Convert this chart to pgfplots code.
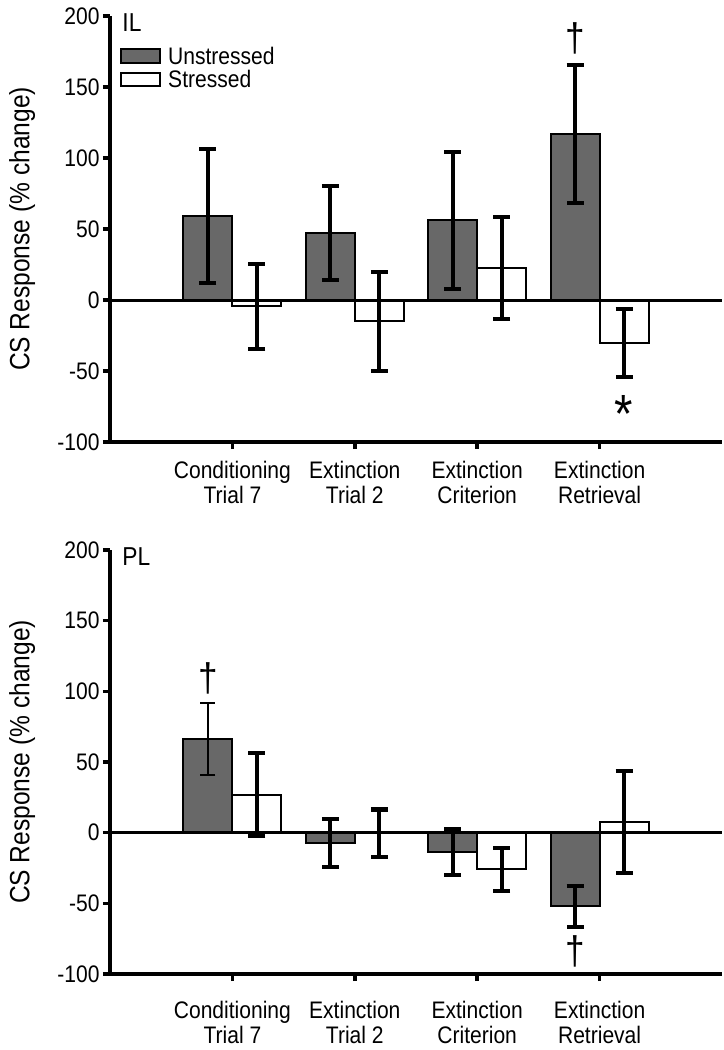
\documentclass[border=0pt]{standalone}
\usepackage{fontspec}
\setmainfont[FakeStretch=0.88]{Liberation Sans}
\usepackage{pgfplots}
\usepackage{pgfplotstable}
\pgfplotsset{compat=1.18}

\definecolor{unstr}{RGB}{104,104,104}
\newcommand{\tf}{\fontsize{24}{25}\selectfont}

% IL panel
\pgfplotstableread{
x y err
1 59 47
2 47 33
3 56 48.5
4 117 48.5
}\ILunstr
\pgfplotstableread{
x y err
1 -4.5 30
2 -15 35
3 22.5 35.7
4 -30 24
}\ILstr
% PL panel
\pgfplotstableread{
x y err
1 66.5 25.5
2 -7 17
3 -13.5 16.4
4 -52 14.4
}\PLunstr
\pgfplotstableread{
x y err
1 27 29.5
2 -0.3 16.7
3 -26 15
4 7.5 36
}\PLstr

\tikzset{
  dag/.style={font=\fontsize{40}{40}\selectfont, inner sep=0pt},
  panelname/.style={anchor=north west, font=\fontsize{26}{27}\selectfont, inner sep=0pt},
}
\pgfplotsset{
  panel/.style={
    scale only axis, width=612bp,
    xmin=0, xmax=5, ymin=-100, ymax=200,
    axis lines=left, axis line style={-, line width=3.5bp},
    xtick={1,2,3,4}, ytick={-100,-50,...,200},
    xticklabels={{Conditioning\\Trial 7},{Extinction\\Trial 2},{Extinction\\Criterion},{Extinction\\Retrieval}},
    tick align=outside, major tick length=7bp,
    tick style={black, line width=3.5bp},
    tick label style={font=\tf},
    xticklabel style={align=center},
    /pgf/number format/assume math mode=true,
    ylabel={CS Response (\% change)},
    ylabel style={font=\fontsize{28}{30}\selectfont, at={(axis description cs:-0.122,0.5)}, anchor=south, rotate=0, inner sep=0pt},
    clip=false,
  },
  barU/.style={ybar, bar width=0.4, bar shift=0pt, fill=unstr, draw=black, line width=2bp},
  barS/.style={ybar, bar width=0.4, bar shift=0pt, fill=white, draw=black, line width=2bp},
  eb/.style={/pgfplots/error bars/y dir=both, /pgfplots/error bars/y explicit,
    /pgfplots/error bars/error bar style={draw=black, line width=4bp},
    /pgfplots/error bars/error mark options={rotate=90, mark size=8.5bp, line width=4bp, draw=black}},
  ebthin/.style={/pgfplots/error bars/y dir=both, /pgfplots/error bars/y explicit,
    /pgfplots/error bars/error bar style={draw=black, line width=1.8bp},
    /pgfplots/error bars/error mark options={rotate=90, mark size=7.5bp, line width=1.8bp, draw=black}},
}

\begin{document}
\begin{tikzpicture}
\begin{axis}[panel, height=426bp, at={(110bp,-442bp)}, anchor=south west,
  xticklabel style={yshift=-9bp}]
\addplot[barU, eb] table[x expr=\thisrow{x}-0.2, y=y, y error=err] {\ILunstr};
\addplot[barS, eb] table[x expr=\thisrow{x}+0.2, y=y, y error=err] {\ILstr};
\addplot[black, line width=3bp, forget plot] coordinates {(0,0) (5,0)};
% legend
\draw[fill=unstr, line width=2.5bp] (rel axis cs:0.018,0.9225) rectangle (rel axis cs:0.0817,0.8897);
\draw[fill=white, line width=2.5bp] (rel axis cs:0.018,0.866) rectangle (rel axis cs:0.0817,0.8357);
\node[anchor=base west, font=\tf, inner sep=0pt] at (rel axis cs:0.0948,0.8873) {Unstressed};
\node[anchor=base west, font=\tf, inner sep=0pt] at (rel axis cs:0.0948,0.8333) {Stressed};
\node[panelname] at (axis description cs:0.02,1.007) {IL};
\node[dag] at (axis cs:3.8,184.5) {†};
\node[anchor=north, font=\fontsize{54}{54}\selectfont, inner sep=0pt] at (axis cs:4.2,-67) {*};
\end{axis}

\begin{axis}[panel, height=424bp, at={(110bp,-974bp)}, anchor=south west,
  xticklabel style={yshift=-17bp}]
\addplot[barU] table[x expr=\thisrow{x}-0.2, y=y] {\PLunstr};
\addplot[barS, eb] table[x expr=\thisrow{x}+0.2, y=y, y error=err] {\PLstr};
\addplot[draw=none, mark=none, forget plot, skip coords between index={1}{4}, ebthin]
  table[x expr=\thisrow{x}-0.2, y=y, y error=err] {\PLunstr};
\addplot[draw=none, mark=none, forget plot, skip coords between index={0}{1}, eb]
  table[x expr=\thisrow{x}-0.2, y=y, y error=err] {\PLunstr};
\addplot[black, line width=3bp, forget plot] coordinates {(0,0) (5,0)};
\node[panelname] at (axis description cs:0.02,1.005) {PL};
\node[dag] at (axis cs:0.8,109.5) {†};
\node[dag] at (axis cs:3.8,-84) {†};
\end{axis}

\pgfresetboundingbox
\path[use as bounding box] (0,0) rectangle (724bp,-1050bp);
\end{tikzpicture}
\end{document}
